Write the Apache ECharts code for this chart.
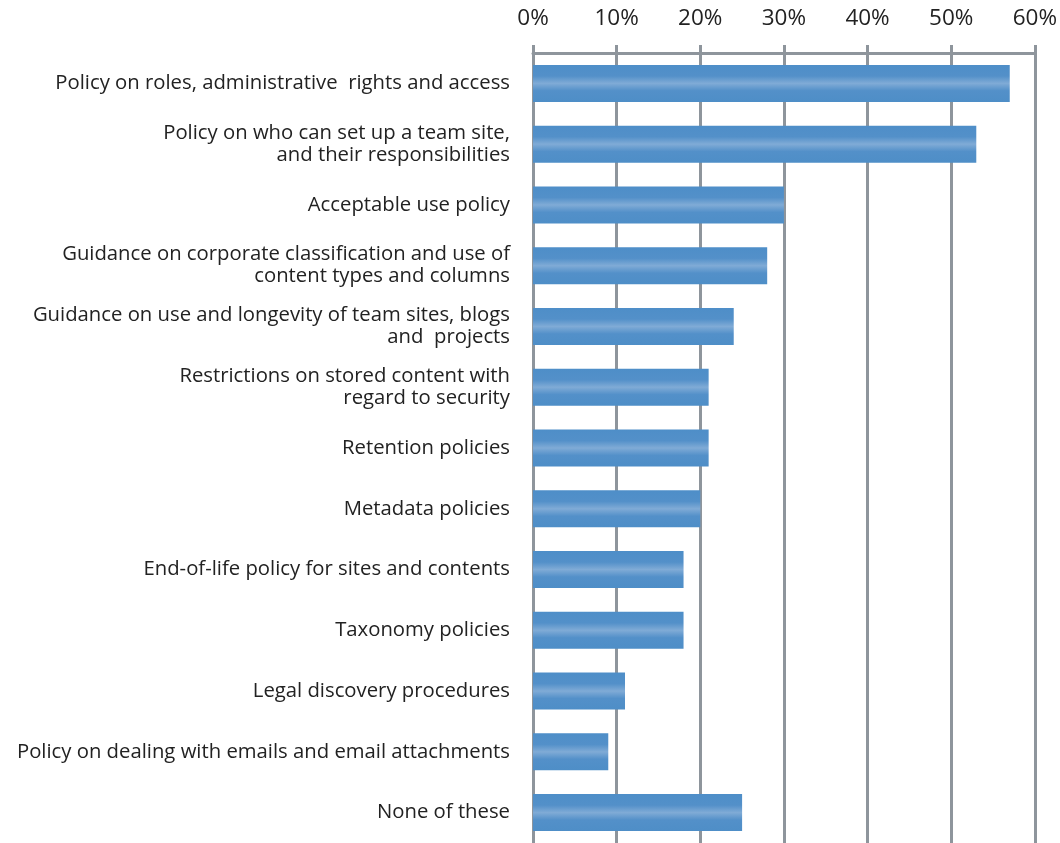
<!DOCTYPE html>
<html>
<head>
<meta charset="utf-8">
<script src="https://cdn.jsdelivr.net/npm/echarts@6/dist/echarts.min.js"></script>
<style>
  html, body { margin: 0; padding: 0; background: #ffffff; }
  #chart { width: 1060px; height: 843px; }
</style>
</head>
<body>
<div id="chart"></div>
<script>
// Governance policies in place (share of respondents, %)
const categories = [
  'Policy on roles, administrative  rights and access',
  'Policy on who can set up a team site,\nand their responsibilities',
  'Acceptable use policy',
  'Guidance on corporate classification and use of\ncontent types and columns',
  'Guidance on use and longevity of team sites, blogs\nand  projects',
  'Restrictions on stored content with\nregard to security',
  'Retention policies',
  'Metadata policies',
  'End-of-life policy for sites and contents',
  'Taxonomy policies',
  'Legal discovery procedures',
  'Policy on dealing with emails and email attachments',
  'None of these'
];
const values = [57, 53, 30, 28, 24, 21, 21, 20, 18, 18, 11, 9, 25];
const tickMin = 0;
const tickMax = 60;
const tickStep = 10;

const gridGrey = '#8e959c';
const font = '"Open Sans", Lato, sans-serif';

const chart = echarts.init(document.getElementById('chart'));
chart.setOption({
  backgroundColor: '#ffffff',
  animation: false,
  grid: { left: 533, right: 23, top: 53, bottom: -1, containLabel: false },
  xAxis: {
    type: 'value',
    position: 'top',
    min: tickMin,
    max: tickMax,
    interval: tickStep,
    axisLine: { show: true, lineStyle: { color: gridGrey, width: 3 } },
    axisTick: { show: true, length: 8, lineStyle: { color: gridGrey, width: 3 } },
    splitLine: { show: true, lineStyle: { color: gridGrey, width: 3 } },
    axisLabel: {
      formatter: '{value}%',
      margin: 23,
      fontFamily: font,
      fontSize: 22.5,
      color: '#222222'
    }
  },
  yAxis: {
    type: 'category',
    data: categories,
    inverse: true,
    axisLine: { show: false },
    axisTick: { show: false },
    splitLine: { show: false },
    axisLabel: {
      margin: 23,
      fontFamily: font,
      fontSize: 20.3,
      lineHeight: 22,
      color: '#222222',
      align: 'right'
    }
  },
  series: [{
    type: 'bar',
    data: values,
    barWidth: 37,
    itemStyle: {
      color: new echarts.graphic.LinearGradient(0, 0, 0, 1, [
        { offset: 0, color: '#4e8ec8' },
        { offset: 0.3, color: '#5390c9' },
        { offset: 0.5, color: '#80abd6' },
        { offset: 0.7, color: '#5390c9' },
        { offset: 1, color: '#4e8ec7' }
      ])
    }
  }]
});
</script>
</body>
</html>
